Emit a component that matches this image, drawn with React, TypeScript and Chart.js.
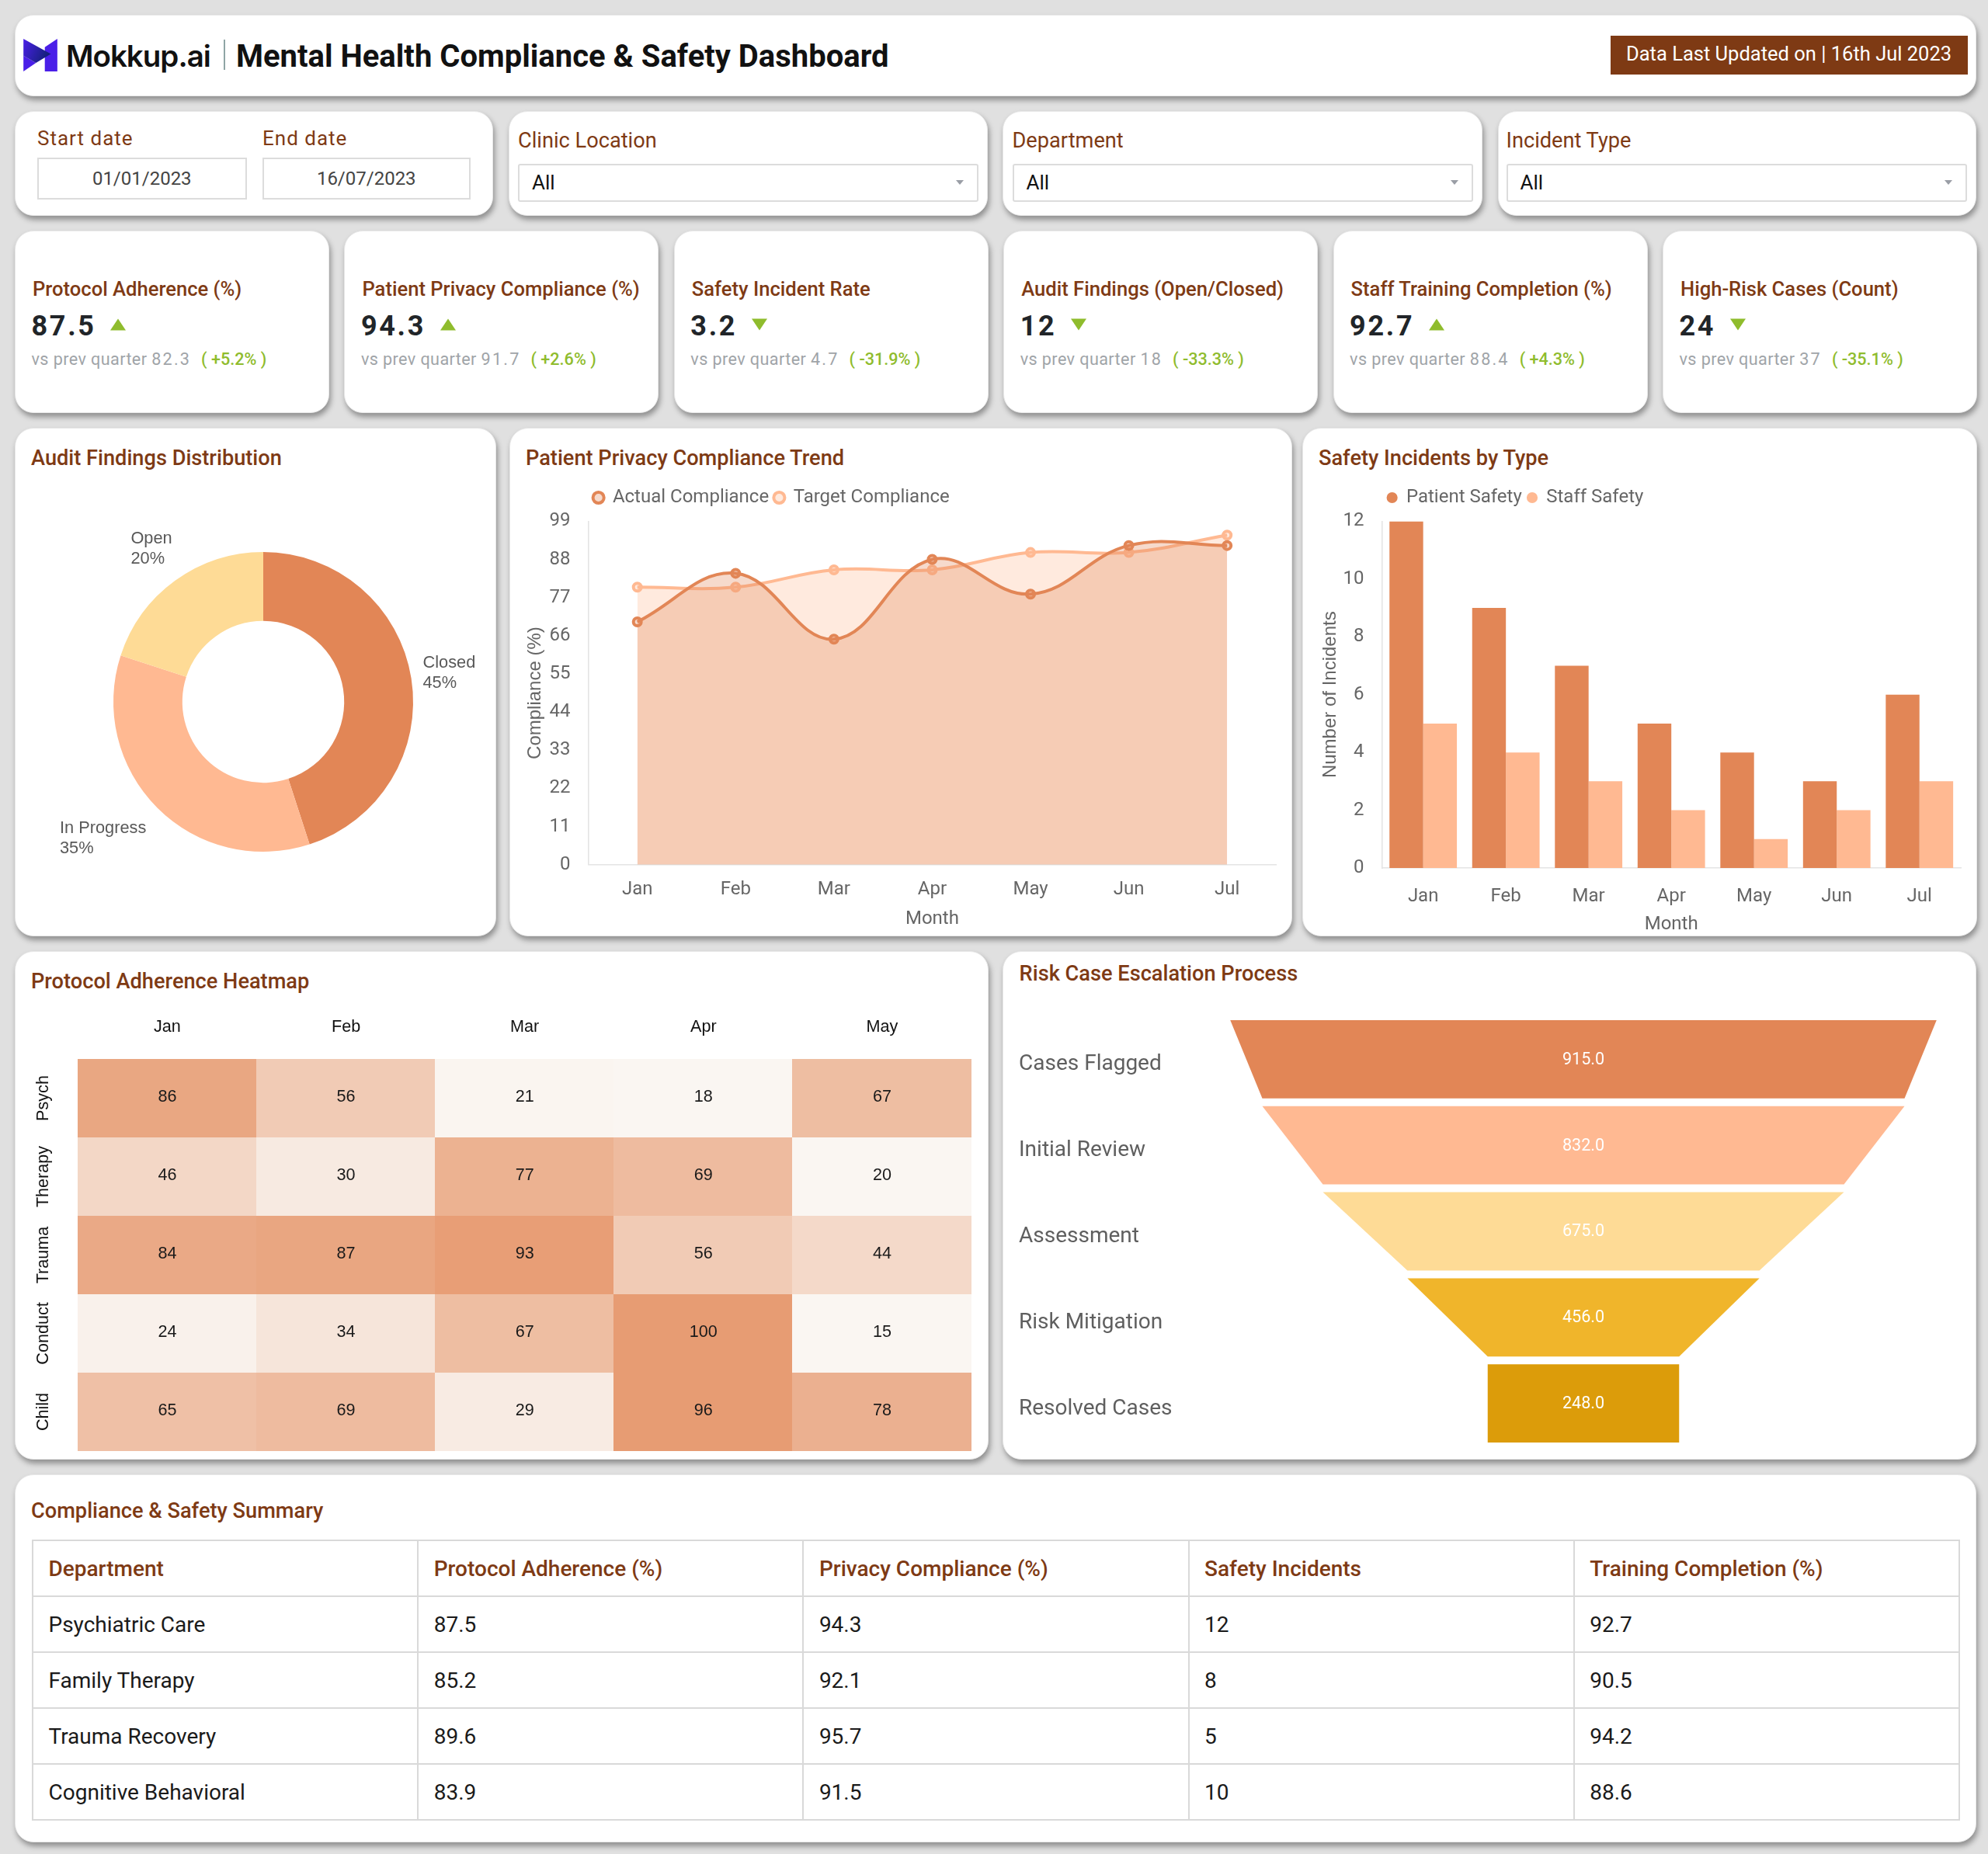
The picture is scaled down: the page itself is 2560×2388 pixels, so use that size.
import { useEffect, useRef } from "react";
import { Chart, registerables } from "chart.js";

Chart.register(...registerables);

const BROWN = "#7E3A14";
const ORANGE = "#E28656";
const PEACH = "#FFB992";
const SAND = "#FEDB96";
const GOLD = "#F0B52B";
const AMBER = "#DC9C0A";
const TICK = "#666666";
const AXIS = "#E4E4E4";

const months = ["Jan", "Feb", "Mar", "Apr", "May", "Jun", "Jul"];

const auditLabels = ["Closed", "In Progress", "Open"];
const auditValues = [45, 35, 20];

const actualCompliance = [70, 84, 65, 88, 78, 92, 92];
const targetCompliance = [80, 80, 85, 85, 90, 90, 95];

const patientSafety = [12, 9, 7, 5, 4, 3, 6];
const staffSafety = [5, 4, 3, 2, 1, 2, 3];

const heatMonths = ["Jan", "Feb", "Mar", "Apr", "May"];
const heatRows = ["Psych", "Therapy", "Trauma", "Conduct", "Child"];
const psychRow = [86, 56, 21, 18, 67];
const therapyRow = [46, 30, 77, 69, 20];
const traumaRow = [84, 87, 93, 56, 44];
const conductRow = [24, 34, 67, 100, 15];
const childRow = [65, 69, 29, 96, 78];
const heatValues = [psychRow, therapyRow, traumaRow, conductRow, childRow];

const funnelStages = ["Cases Flagged", "Initial Review", "Assessment", "Risk Mitigation", "Resolved Cases"];
const funnelValues = [915, 832, 675, 456, 248];

const kpiTitles = [
  "Protocol Adherence (%)",
  "Patient Privacy Compliance (%)",
  "Safety Incident Rate",
  "Audit Findings (Open/Closed)",
  "Staff Training Completion (%)",
  "High-Risk Cases (Count)",
];
const kpiValues = ["87.5", "94.3", "3.2", "12", "92.7", "24"];
const kpiUp = [true, true, false, false, true, false];
const kpiPrev = ["82.3", "91.7", "4.7", "18", "88.4", "37"];
const kpiDelta = ["+5.2%", "+2.6%", "-31.9%", "-33.3%", "+4.3%", "-35.1%"];

const tableHead = ["Department", "Protocol Adherence (%)", "Privacy Compliance (%)", "Safety Incidents", "Training Completion (%)"];
const tableRows = [
  ["Psychiatric Care", "87.5", "94.3", "12", "92.7"],
  ["Family Therapy", "85.2", "92.1", "8", "90.5"],
  ["Trauma Recovery", "89.6", "95.7", "5", "94.2"],
  ["Cognitive Behavioral", "83.9", "91.5", "10", "88.6"],
];

function heatColor(v: number) {
  const t = Math.max(0, Math.min(1, (v - 20) / 75));
  const mix = (a: number, b: number) => Math.round(a + (b - a) * t);
  return `rgb(${mix(250, 231)},${mix(246, 156)},${mix(242, 115)})`;
}

// one canvas per colour, the point element draws it as a heatmap cell
function cellImage(w: number, h: number, color: string) {
  const c = document.createElement("canvas");
  c.width = Math.max(1, Math.ceil(w));
  c.height = Math.max(1, Math.ceil(h));
  const g = c.getContext("2d")!;
  g.fillStyle = color;
  g.fillRect(0, 0, c.width, c.height);
  return c;
}

const donutLabels = {
  id: "donutLabels",
  afterDatasetsDraw(chart: any) {
    const { ctx } = chart;
    const nudge = [[0, 0], [-3.5, 3], [5, 1.5]];
    ctx.save();
    ctx.font = "21.8px 'Liberation Sans'";
    ctx.fillStyle = "#595959";
    ctx.textAlign = "left";
    ctx.textBaseline = "middle";
    chart.getDatasetMeta(0).data.forEach((arc: any, i: number) => {
      const mid = (arc.startAngle + arc.endAngle) / 2;
      const r = arc.outerRadius + 15;
      const px = arc.x + Math.cos(mid) * r;
      const py = arc.y + Math.sin(mid) * r;
      const lines = [auditLabels[i], `${auditValues[i]}%`];
      const w = Math.max(...lines.map((l) => ctx.measureText(l).width));
      const x = (Math.cos(mid) > 0 ? px : px - w) + nudge[i][0];
      const s = Math.sin(mid);
      const top = (Math.abs(s) < 0.3 ? py - 30 : s < 0 ? py - 56 : py) + nudge[i][1];
      lines.forEach((l, n) => ctx.fillText(l, x, top + 13 + n * 26));
    });
    ctx.restore();
  },
};

const heatLabels = {
  id: "heatLabels",
  afterDatasetsDraw(chart: any) {
    const { ctx } = chart;
    ctx.save();
    ctx.font = "21.6px 'Liberation Sans'";
    ctx.fillStyle = "#1a1a1a";
    ctx.textAlign = "center";
    ctx.textBaseline = "middle";
    const meta = chart.getDatasetMeta(0);
    meta.data.forEach((pt: any, i: number) => {
      ctx.fillText(String(chart.data.datasets[0].data[i].v), pt.x, pt.y - 1);
    });
    ctx.restore();
  },
};

const funnelShapes = {
  id: "funnelShapes",
  afterDatasetsDraw(chart: any) {
    const { ctx, scales } = chart;
    const colors = [ORANGE, PEACH, SAND, GOLD, AMBER];
    const cx = scales.x.getPixelForValue(0);
    chart.getDatasetMeta(0).data.forEach((bar: any, i: number) => {
      const v = funnelValues[i];
      const next = funnelValues[i + 1] ?? v;
      const half = scales.x.getPixelForValue(v / 2) - cx;
      const nextHalf = scales.x.getPixelForValue(next / 2) - cx;
      const top = bar.y - bar.height / 2;
      const bottom = bar.y + bar.height / 2;
      ctx.fillStyle = colors[i];
      ctx.beginPath();
      ctx.moveTo(cx - half, top);
      ctx.lineTo(cx + half, top);
      ctx.lineTo(cx + nextHalf, bottom);
      ctx.lineTo(cx - nextHalf, bottom);
      ctx.closePath();
      ctx.fill();
      ctx.fillStyle = "#fff";
      ctx.font = "21.6px Roboto";
      ctx.textAlign = "center";
      ctx.textBaseline = "middle";
      ctx.fillText(v.toFixed(1), cx, bar.y + 1);
    });
  },
};

// legend keeps a fixed height so the plot top lands where it should
const legendHeight = (h: number) => ({
  id: "legendHeight",
  beforeInit(chart: any) {
    const fit = chart.legend.fit;
    chart.legend.fit = function () {
      fit.call(this);
      this.height = h;
    };
  },
});

const legendOpts = {
  position: "top",
  align: "start",
  fullSize: false,
  labels: {
    usePointStyle: true,
    boxWidth: 12.5,
    boxHeight: 10,
    padding: 7,
    color: TICK,
    font: { family: "Roboto", size: 24 },
  },
};

const axisTitle = (text: string, family: string, padding: any) => ({
  display: true,
  text,
  color: TICK,
  font: { family, size: 24 },
  padding,
});

const donutConfig: any = {
  type: "doughnut",
  data: {
    labels: auditLabels,
    datasets: [{ data: auditValues, backgroundColor: [ORANGE, PEACH, SAND], borderWidth: 0 }],
  },
  options: {
    responsive: false,
    animation: false,
    devicePixelRatio: 1,
    cutout: "54%",
    layout: { padding: 107 },
    plugins: { legend: { display: false }, tooltip: { enabled: false } },
  },
  plugins: [donutLabels],
};

const lineDataset = (label: string, data: number[], color: string, fill: string) => ({
  label,
  data,
  borderColor: color,
  backgroundColor: fill,
  borderWidth: 4,
  tension: 0.4,
  fill: "origin",
  pointRadius: 5,
  pointBorderWidth: 4,
  pointBorderColor: color,
  pointBackgroundColor: fill,
});

const lineConfig: any = {
  type: "line",
  data: {
    labels: months,
    datasets: [
      lineDataset("Actual Compliance", actualCompliance, ORANGE, "rgba(226,134,86,0.3)"),
      lineDataset("Target Compliance", targetCompliance, PEACH, "rgba(255,185,146,0.3)"),
    ],
  },
  options: {
    responsive: false,
    animation: false,
    devicePixelRatio: 1,
    layout: { padding: { right: 11.5 } },
    plugins: { legend: legendOpts, tooltip: { enabled: false } },
    scales: {
      x: {
        offset: true,
        grid: { display: false, drawTicks: false },
        border: { color: AXIS, width: 1.6 },
        ticks: { color: TICK, padding: 17.5, font: { family: "Roboto", size: 24 }, maxRotation: 0 },
        title: axisTitle("Month", "Roboto", { top: 0, bottom: 4 }),
        afterFit: (s: any) => { s.height = 88.3; },
      },
      y: {
        min: 0,
        max: 99,
        grid: { display: false, drawTicks: false },
        border: { color: AXIS, width: 1.6 },
        ticks: { stepSize: 11, color: TICK, padding: 23, font: { family: "Roboto", size: 24 } },
        title: axisTitle("Compliance (%)", "'Liberation Sans'", { top: 10, bottom: 0 }),
        afterFit: (s: any) => { s.width = 92.4; },
      },
    },
  },
  plugins: [legendHeight(49.4)],
};

const barConfig: any = {
  type: "bar",
  data: {
    labels: months,
    datasets: [
      { label: "Patient Safety", data: patientSafety, backgroundColor: ORANGE, barPercentage: 1, categoryPercentage: 0.815 },
      { label: "Staff Safety", data: staffSafety, backgroundColor: PEACH, barPercentage: 1, categoryPercentage: 0.815 },
    ],
  },
  options: {
    responsive: false,
    animation: false,
    devicePixelRatio: 1,
    layout: { padding: { right: 11 } },
    plugins: { legend: legendOpts, tooltip: { enabled: false } },
    scales: {
      x: {
        grid: { display: false, drawTicks: false },
        border: { color: AXIS, width: 1.6 },
        ticks: { color: TICK, padding: 23, font: { family: "Roboto", size: 24 }, maxRotation: 0 },
        title: axisTitle("Month", "Roboto", { top: 0, bottom: 0 }),
        afterFit: (s: any) => { s.height = 87; },
      },
      y: {
        min: 0,
        max: 12,
        grid: { display: false, drawTicks: false },
        border: { color: AXIS, width: 1.6 },
        ticks: { stepSize: 2, color: TICK, padding: 23, font: { family: "Roboto", size: 24 } },
        title: axisTitle("Number of Incidents", "'Liberation Sans'", { top: 13, bottom: 0 }),
        afterFit: (s: any) => { s.width = 93.4; },
      },
    },
  },
  plugins: [legendHeight(49.4)],
};

const heatPoints = heatRows.flatMap((row, r) =>
  heatMonths.map((month, c) => ({ x: month, y: row, v: heatValues[r][c] }))
);

const heatConfig: any = {
  type: "scatter",
  data: {
    datasets: [
      {
        data: heatPoints,
        pointRadius: 10,
        pointStyle: (ctx: any) => {
          const { x, y } = ctx.chart.scales;
          return cellImage(x.width / heatMonths.length, y.height / heatRows.length, heatColor(ctx.raw?.v ?? 0));
        },
      },
    ],
  },
  options: {
    responsive: false,
    animation: false,
    devicePixelRatio: 1,
    layout: { padding: { left: 0, right: 10.7, bottom: 2 } },
    plugins: { legend: { display: false }, tooltip: { enabled: false } },
    scales: {
      x: {
        type: "category",
        labels: heatMonths,
        position: "top",
        offset: true,
        grid: { display: false, drawTicks: false },
        border: { display: false },
        ticks: { color: "#111", padding: 28, font: { family: "'Liberation Sans'", size: 21.6 }, maxRotation: 0 },
        afterFit: (s: any) => { s.height = 74; },
      },
      y: {
        type: "category",
        labels: heatRows,
        offset: true,
        grid: { display: false, drawTicks: false },
        border: { display: false },
        ticks: {
          color: "#111",
          padding: 4,
          minRotation: 90,
          maxRotation: 90,
          crossAlign: "center",
          font: { family: "'Liberation Sans'", size: 21.6 },
        },
        afterFit: (s: any) => {
          s.width = 70.4;
          s.paddingTop = 0;
          s.paddingBottom = 0;
        },
      },
    },
  },
  plugins: [heatLabels],
};

const funnelConfig: any = {
  type: "bar",
  data: {
    labels: funnelStages,
    datasets: [
      {
        data: funnelValues.map((v) => [-v / 2, v / 2]),
        backgroundColor: "rgba(0,0,0,0)",
        barPercentage: 0.91,
        categoryPercentage: 1,
      },
    ],
  },
  options: {
    indexAxis: "y",
    responsive: false,
    animation: false,
    devicePixelRatio: 1,
    plugins: { legend: { display: false }, tooltip: { enabled: false } },
    scales: {
      x: { display: false, min: -500, max: 500 },
      y: {
        grid: { display: false, drawTicks: false },
        border: { display: false },
        ticks: { color: "#5f5f5f", crossAlign: "far", labelOffset: 7, font: { family: "Roboto", size: 28 } },
        afterFit: (s: any) => {
          s.width = 230;
          s.paddingTop = 0;
          s.paddingBottom = 0;
        },
      },
    },
  },
  plugins: [funnelShapes],
};

function ChartBox({ left, top, width, height, config }: any) {
  const canvasRef = useRef<HTMLCanvasElement>(null);
  useEffect(() => {
    if (!canvasRef.current) return;
    const chart = new Chart(canvasRef.current, config);
    return () => chart.destroy();
  }, [config]);
  return <canvas ref={canvasRef} width={width} height={height} style={{ position: "absolute", left, top, width, height, display: "block" }} />;
}

function Card({ left, top, right, bottom }: any) {
  return (
    <div
      style={{
        position: "absolute",
        left,
        top,
        width: right - left,
        height: bottom - top,
        background: "#fff",
        borderRadius: 24,
        border: "1.6px solid #e8e8e8",
        boxSizing: "border-box",
        boxShadow: "2px 5px 7px rgba(0,0,0,0.36)",
      }}
    />
  );
}

// absolute text line, y is the vertical centre
function T({ x, y, size, color, weight, spacing, family, children }: any) {
  return (
    <div
      style={{
        position: "absolute",
        left: x,
        top: y,
        transform: "translateY(-50%)",
        fontFamily: family ?? "Roboto",
        fontSize: size,
        fontWeight: weight ?? 400,
        color,
        letterSpacing: spacing,
        lineHeight: 1.2,
        whiteSpace: "nowrap",
      }}
    >
      {children}
    </div>
  );
}

function DateBox({ label, x, w, value }: any) {
  return (
    <>
      <T x={x} y={178.5} size={26} color={BROWN} spacing={1}>{label}</T>
      <div style={{ position: "absolute", left: x, top: 202.5, width: w, height: 54.5, boxSizing: "border-box", border: "2px solid #dcdcdc", color: "#444", fontFamily: "Roboto", fontSize: 24, display: "flex", alignItems: "center", justifyContent: "center" }}>
        {value}
      </div>
    </>
  );
}

function SelectBox({ label, x, w }: any) {
  return (
    <>
      <T x={x} y={181} size={27.2} color={BROWN}>{label}</T>
      <div style={{ position: "absolute", left: x, top: 210.5, width: w, height: 49, boxSizing: "border-box", border: "2px solid #dcdcdc", borderRadius: 3 }} />
      <T x={x + 18} y={236} size={26} color="#111">All</T>
      <div style={{ position: "absolute", left: x + w - 29, top: 231.5, width: 0, height: 0, borderLeft: "5.5px solid transparent", borderRight: "5.5px solid transparent", borderTop: "6px solid #9a9ea6" }} />
    </>
  );
}

function KpiArrow({ up }: any) {
  return (
    <span
      style={{
        display: "inline-block",
        position: "relative",
        top: -3,
        marginLeft: 18.5,
        width: 0,
        height: 0,
        borderLeft: "10px solid transparent",
        borderRight: "10px solid transparent",
        [up ? "borderBottom" : "borderTop"]: "15px solid #8FBC2D",
      }}
    />
  );
}

function Kpi({ i }: { i: number }) {
  const x = 19 + i * 424.4;
  return (
    <>
      <Card left={x} top={297} right={x + 405} bottom={532} />
      <T x={x + 23} y={372} size={25.6} weight={500} color={BROWN}>{kpiTitles[i]}</T>
      <T x={x + 21.5} y={421} size={36} weight={700} spacing={2.7} color="#212529">
        <span style={{ display: "inline-flex", alignItems: "center" }}>
          {kpiValues[i]}
          <KpiArrow up={kpiUp[i]} />
        </span>
      </T>
      <T x={x + 21.5} y={463} size={21.6} spacing={0.4} color="#a0a4a8">
        vs prev quarter <span style={{ letterSpacing: 2.2 }}>{kpiPrev[i]}</span>
        <span style={{ color: "#8FBC2D", letterSpacing: 0, marginLeft: 13, fontWeight: 500 }}>( {kpiDelta[i]} )</span>
      </T>
    </>
  );
}

export default function App() {
  return (
    <div style={{ position: "absolute", left: 0, top: 0, width: 2560, height: 2388, background: "#E0E0E0", overflow: "hidden", fontFamily: "Roboto" }}>
      <style>{"body{margin:0}"}</style>

      <Card left={19} top={19} right={2545} bottom={124} />
      <svg style={{ position: "absolute", left: 30, top: 50 }} width={44} height={42} viewBox="30 30 130 125">
        <defs>
          <linearGradient id="logoFold" x1="0" y1="0" x2="1" y2="0.4">
            <stop offset="0" stopColor="#4A1FE8" />
            <stop offset="1" stopColor="#14207A" />
          </linearGradient>
        </defs>
        <polygon points="112,62 160,30 160,155 112,155" fill="#4A1FE8" />
        <polygon points="30,95 78,122 30,155" fill="#4A1FE8" />
        <polygon points="30,30 135,88 78,122 30,95" fill="url(#logoFold)" />
      </svg>
      <T x={85} y={72} size={38.5} weight={600} family="Inter" color="#111" spacing={-1}>Mokkup.ai</T>
      <div style={{ position: "absolute", left: 288, top: 51, width: 1.5, height: 38.5, background: "#8fa5a5" }} />
      <T x={304} y={73} size={40} weight={700} color="#111">Mental Health Compliance &amp; Safety Dashboard</T>
      <div style={{ position: "absolute", left: 2074, top: 46, width: 460, height: 50, background: BROWN }} />
      <T x={2094} y={69} size={25.5} color="#fff">Data Last Updated on | 16th Jul 2023</T>

      <Card left={19} top={143} right={635} bottom={278} />
      <DateBox label="Start date" x={48} w={269.5} value="01/01/2023" />
      <DateBox label="End date" x={338} w={267.5} value="16/07/2023" />
      <Card left={655} top={143} right={1272} bottom={278} />
      <SelectBox label="Clinic Location" x={667} w={593} />
      <Card left={1291} top={143} right={1909} bottom={278} />
      <SelectBox label="Department" x={1303.5} w={593} />
      <Card left={1929} top={143} right={2545} bottom={278} />
      <SelectBox label="Incident Type" x={1939.5} w={593.5} />

      {kpiTitles.map((_, i) => <Kpi key={i} i={i} />)}

      <Card left={19} top={551} right={639} bottom={1206} />
      <T x={40} y={589.5} size={27.2} weight={500} color={BROWN}>Audit Findings Distribution</T>
      <ChartBox left={39} top={604} width={600} height={600} config={donutConfig} />

      <Card left={656} top={551} right={1664} bottom={1206} />
      <T x={677} y={589.5} size={27.2} weight={500} color={BROWN}>Patient Privacy Compliance Trend</T>
      <ChartBox left={665} top={622} width={990} height={580} config={lineConfig} />

      <Card left={1677} top={551} right={2546} bottom={1206} />
      <T x={1698} y={589.5} size={27.2} weight={500} color={BROWN}>Safety Incidents by Type</T>
      <ChartBox left={1686} top={622} width={850} height={583} config={barConfig} />

      <Card left={19} top={1225} right={1273} bottom={1880} />
      <T x={40} y={1264} size={27.2} weight={500} color={BROWN}>Protocol Adherence Heatmap</T>
      <ChartBox left={30} top={1290} width={1232} height={590} config={heatConfig} />

      <Card left={1291} top={1225} right={2545} bottom={1880} />
      <T x={1312.6} y={1253.5} size={27.2} weight={500} color={BROWN}>Risk Case Escalation Process</T>
      <ChartBox left={1312} top={1309} width={1224} height={554} config={funnelConfig} />

      <Card left={19} top={1899} right={2545} bottom={2373} />
      <T x={40} y={1946} size={27.2} weight={500} color={BROWN}>Compliance &amp; Safety Summary</T>
      <table style={{ position: "absolute", left: 41, top: 1983, width: 2483, height: 360, borderCollapse: "collapse", tableLayout: "fixed", fontFamily: "Roboto", fontSize: 28 }}>
        <thead>
          <tr style={{ height: 72 }}>
            {tableHead.map((h) => (
              <th key={h} style={{ border: "2px solid #d9d9d9", padding: "0 19.5px", textAlign: "left", fontWeight: 500, color: BROWN }}>{h}</th>
            ))}
          </tr>
        </thead>
        <tbody>
          {tableRows.map((row) => (
            <tr key={row[0]} style={{ height: 72 }}>
              {row.map((c, i) => (
                <td key={i} style={{ border: "2px solid #d9d9d9", padding: "0 19.5px", color: "#1a1a1a" }}>{c}</td>
              ))}
            </tr>
          ))}
        </tbody>
      </table>
    </div>
  );
}
